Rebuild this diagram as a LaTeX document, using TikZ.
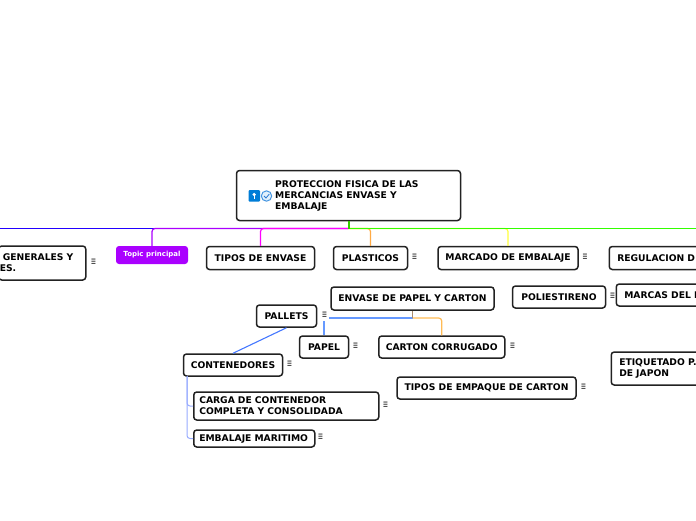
\documentclass[tikz,border=0pt]{standalone}
\usepackage{fontspec}
\setmainfont{DejaVu Sans}
\definecolor{inkdark}{HTML}{222222}
\tikzset{
  topicbox/.style={draw=inkdark, line width=1.5pt, rounded corners=3pt, fill=white,
    font=\fontsize{9.2}{11}\selectfont\bfseries, text=black, inner sep=0pt, align=left},
  menumark/.style={font=\fontsize{8}{8}\selectfont, text=black!75, inner sep=0pt, xscale=0.8, yscale=1.5, transform shape},
  branch/.style={line width=1.2pt, rounded corners=3pt}
}
\begin{document}
\begin{tikzpicture}[x=1pt, y=-1pt]
    \useasboundingbox (0, 0) rectangle (696, 520);
    \clip (0, 0) rectangle (696, 520);

    % first row
    \node[topicbox, minimum width=224, minimum height=50] (root) at (348.5, 195.5) {};
    \node[font=\fontsize{9.2}{11}\selectfont\bfseries, align=left, inner sep=0pt, anchor=west] (roottext) at (275, 196)
      {PROTECCION FISICA DE LAS\\MERCANCIAS ENVASE Y\\EMBALAJE};
    \node[topicbox, anchor=west, minimum height=34, text width=85, inner xsep=1pt] (generales) at (-2, 263)
      {\hspace*{3pt}GENERALES Y\\ES.};
    \node[draw=none, fill={rgb,255:red,170;green,0;blue,255}, rounded corners=3pt, text=white,
      font=\fontsize{7}{8}\selectfont\bfseries, minimum width=72, minimum height=18, inner sep=0pt] (topic) at (152, 255) {Topic principal};
    \node[topicbox, minimum width=108, minimum height=23] (tipos) at (260.5, 258) {TIPOS DE ENVASE};
    \node[topicbox, minimum width=74, minimum height=23] (plasticos) at (370.5, 258) {PLASTICOS};
    \node[topicbox, minimum width=140, minimum height=23] (marcado) at (508, 258) {MARCADO DE EMBALAJE};
    \node[topicbox, anchor=west, minimum height=23, text width=110, inner xsep=8pt] (regulacion) at (608.5, 258) {REGULACION D};

    % lower topics
    \node[topicbox, minimum width=163, minimum height=23] (envase) at (412.5, 298.5) {ENVASE DE PAPEL Y CARTON};
    \node[topicbox, minimum width=93, minimum height=22] (poli) at (559, 297) {POLIESTIRENO};
    \node[topicbox, anchor=west, minimum height=22, text width=110, inner xsep=8pt] (marcas) at (615.5, 295) {MARCAS DEL E};
    \node[topicbox, minimum width=60, minimum height=22] (pallets) at (286.5, 316) {PALLETS};
    \node[topicbox, minimum width=49, minimum height=22] (papel) at (324, 347) {PAPEL};
    \node[topicbox, minimum width=126, minimum height=22] (corrugado) at (441.75, 347) {CARTON CORRUGADO};
    \node[topicbox, minimum width=99, minimum height=22] (contenedores) at (233, 365) {CONTENEDORES};
    \node[topicbox, minimum width=179, minimum height=22] (empaque) at (486.5, 388) {TIPOS DE EMPAQUE DE CARTON};
    \node[topicbox, anchor=west, minimum height=33, text width=110, inner xsep=8pt] (etiquetado) at (610.5, 368.5) {ETIQUETADO P.\\DE JAPON};
    \node[topicbox, anchor=west, minimum height=28, text width=174, inner xsep=5.5pt] (carga) at (193, 406) {CARGA DE CONTENEDOR\\COMPLETA Y CONSOLIDADA};
    \node[topicbox, anchor=west, minimum height=17, text width=110, inner xsep=5.5pt] (maritimo) at (193, 438.5) {EMBALAJE MARITIMO};

    % marks beside the topics
    \node[menumark] (m1) at (93.5, 262) {≡};
    \node[menumark] (m2) at (414.5, 257.5) {≡};
    \node[menumark] (m3) at (585, 257.5) {≡};
    \node[menumark] (m4) at (612.5, 296.5) {≡};
    \node[menumark] (m5) at (324.5, 315.5) {≡};
    \node[menumark] (m6) at (355.5, 346.5) {≡};
    \node[menumark] (m7) at (512.5, 346.5) {≡};
    \node[menumark] (m8) at (289.5, 364.5) {≡};
    \node[menumark] (m9) at (583.5, 387) {≡};
    \node[menumark] (m10) at (385.5, 405.5) {≡};
    \node[menumark] (m11) at (320.5, 437) {≡};

    % branches out of the root
    \coordinate (hub) at (348.5, 228.5);
    \coordinate (farleft) at (0, 228.5);
    \coordinate (farright) at (696, 228.5);
    \draw[branch, color={rgb,255:red,34;green,0;blue,255}] (hub) -- (farleft);
    \draw[branch, color={rgb,255:red,170;green,0;blue,255}] (hub) -| (topic.north);
    \draw[branch, color={rgb,255:red,255;green,0;blue,255}] (hub) -| (tipos.north);
    \draw[branch, color={rgb,255:red,255;green,170;blue,68}] (hub) -| (plasticos.north);
    \draw[branch, color={rgb,255:red,255;green,255;blue,60}] (hub) -| (marcado.north);
    \draw[branch, color={rgb,255:red,51;green,255;blue,0}] (hub) -- (farright);
    \draw[line width=2pt, color={rgb,255:red,51;green,204;blue,0}] (root.south) -- (hub);

    % branches of the lower topics
    \coordinate (split) at (412.5, 318);
    \draw[branch, color={rgb,255:red,102;green,153;blue,255}] (split) -- (329, 318);
    \draw[branch, color={rgb,255:red,102;green,153;blue,255}] (324, 321) -- (papel.north);
    \draw[branch, color={rgb,255:red,255;green,187;blue,85}] (split) -| (corrugado.north);
    \draw[line width=1.2pt, color={rgb,255:red,170;green,140;blue,110}] (envase.south) -- (split);
    \draw[line width=1.1pt, color={rgb,255:red,68;green,119;blue,255}] (pallets.south) -- (contenedores.north);
    \coordinate (stem) at (187, 376);
    \draw[line width=1pt, rounded corners=3pt, color={rgb,255:red,150;green,170;blue,255}] (stem) |- (carga.west);
    \draw[line width=1pt, rounded corners=3pt, color={rgb,255:red,150;green,170;blue,255}] (stem) |- (maritimo.west);

    % icons of the root
    \fill[color={rgb,255:red,0;green,125;blue,215}, rounded corners=1pt] (248.5, 190) rectangle (260, 201.5);
    \fill[white] (254.2, 194.5) circle (1.8);
    \fill[white] (253.6, 195.5) rectangle (254.8, 199);
    \draw[line width=1pt, color={rgb,255:red,70;green,150;blue,225}, fill={rgb,255:red,225;green,240;blue,252}] (266.5, 196) circle (5.2);
    \draw[line width=0.8pt, color={rgb,255:red,40;green,120;blue,210}] (264, 196) -- (266, 198) -- (269.3, 194);
  \end{tikzpicture}
\end{document}
